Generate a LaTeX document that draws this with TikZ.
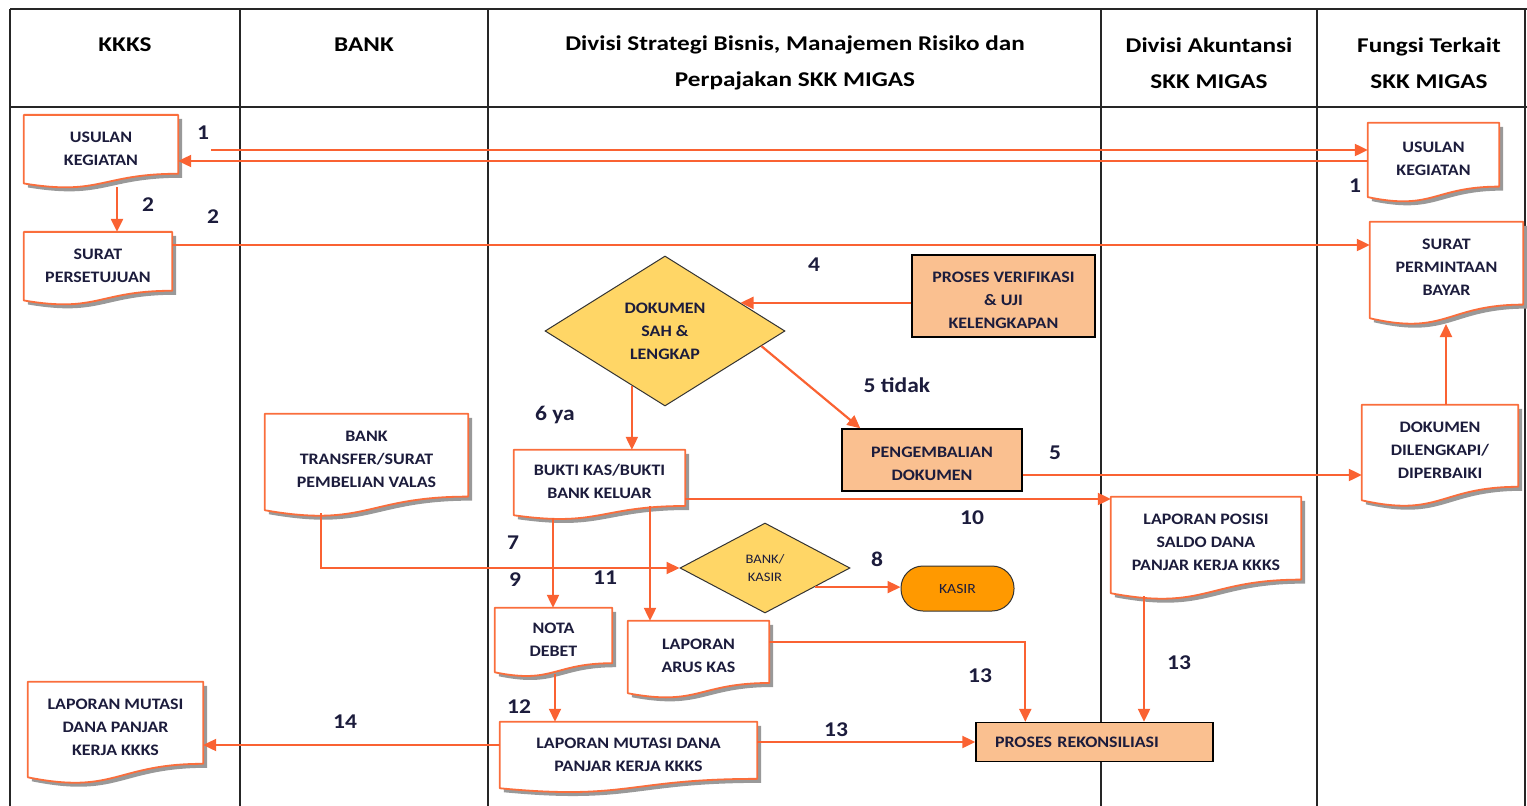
\documentclass[tikz,border=0pt]{standalone}
\usepackage{fontspec}
\setmainfont[FakeStretch=1.12]{Carlito}
\newfontfamily\headfont[FakeStretch=1.2]{Carlito}
\usetikzlibrary{shapes.geometric,arrows.meta,calc}
\pgfdeclarelayer{lanes}
\pgfdeclarelayer{bg}
\pgfsetlayers{lanes,bg,main}

\definecolor{lineor}{RGB}{250,98,50}
\definecolor{docor}{RGB}{250,110,60}
\definecolor{procfill}{RGB}{250,192,144}
\definecolor{decfill}{RGB}{255,214,102}
\definecolor{termfill}{RGB}{255,153,0}
\definecolor{ink}{RGB}{28,28,60}

% strut that sets the first text line a little lower in its box
\newcommand\lowr{\rule{0pt}{19pt}}

\tikzset{
  doc/.style={inner sep=0pt, text=ink, align=center,
    font=\fontsize{16}{23}\selectfont\bfseries},
  proc/.style={draw=black, line width=1.4pt, fill=procfill, inner sep=0pt,
    text=ink, align=center, font=\fontsize{16}{23}\selectfont\bfseries},
  dec/.style={diamond, shape aspect=1.6, draw=black!80, line width=1pt,
    fill=decfill, inner sep=0pt, text=ink, align=center,
    font=\fontsize{16}{23}\selectfont\bfseries},
  term/.style={rectangle, rounded corners=22pt, draw=black!80, line width=1pt,
    fill=termfill, inner sep=0pt, text=ink, font=\fontsize{14}{16}\selectfont},
  head/.style={inner sep=0pt, align=center, text=black,
    font=\headfont\fontsize{21}{36}\selectfont\bfseries},
  lbl/.style={inner sep=0pt, text=ink, font=\fontsize{21}{24}\selectfont\bfseries},
  arr/.style={draw=lineor, line width=2.2pt,
    -{Triangle[length=13pt,width=12pt]}},
  lane/.style={draw=black!85, line width=1.5pt}
}

% document symbol: flat top, wavy bottom, grey drop shadow
\newcommand\docshape[1]{%
  \begin{pgfonlayer}{bg}
    \path[fill=black!40, transform canvas={shift={(4pt,-4pt)}}]
      (#1.north west) -- (#1.north east) -- (#1.south east)
      .. controls (#1.south) and ($(#1.south)!-0.38!(#1.north)$) ..
      ($(#1.south west)!-0.1646!(#1.north west)$) -- cycle;
    \path[fill=white, draw=docor, line width=1.8pt, line join=round]
      (#1.north west) -- (#1.north east) -- (#1.south east)
      .. controls (#1.south) and ($(#1.south)!-0.38!(#1.north)$) ..
      ($(#1.south west)!-0.1646!(#1.north west)$) -- cycle;
  \end{pgfonlayer}}

\begin{document}
\begin{tikzpicture}[x=1pt,y=-1pt]
\useasboundingbox (0,0) rectangle (1527,806);

% swimlane table
\begin{pgfonlayer}{lanes}
  \path[lane] (10,9) -- (1527,9);
  \path[lane, line width=2.6pt] (10,107) -- (1527,107);
  \foreach \lx in {10,240,488,1101,1317,1525}
    \path[lane] (\lx,9) -- (\lx,806);
\end{pgfonlayer}

% lane headings
\node[head] (hKKKS) at (125,45) {KKKS};
\node[head] (hBank) at (364,45) {BANK};
\node[head] (hDiv)  at (795,63) {Divisi Strategi Bisnis, Manajemen Risiko dan\\Perpajakan SKK MIGAS};
\node[head] (hAkun) at (1209,63) {Divisi Akuntansi\\SKK MIGAS};
\node[head] (hFung) at (1429,63) {Fungsi Terkait\\SKK MIGAS};

% documents
\node[doc, minimum width=154pt, minimum height=58.5pt] (usulanL) at (101,144.3) {\lowr USULAN\\KEGIATAN};
\node[doc, minimum width=148pt, minimum height=58.5pt] (suratP) at (98,261.3) {\lowr SURAT\\PERSETUJUAN};
\node[doc, minimum width=131pt, minimum height=63.4pt] (usulanR) at (1433.5,154.7) {\lowr USULAN\\KEGIATAN};
\node[doc, minimum width=153pt, minimum height=82.4pt] (suratPB) at (1446.5,263.2) {\lowr SURAT\\PERMINTAAN\\BAYAR};
\node[doc, minimum width=156pt, minimum height=81.6pt] (dokLengkap) at (1440,445.8) {\lowr DOKUMEN\\DILENGKAPI/\\DIPERBAIKI};
\node[doc, minimum width=190pt, minimum height=82.4pt] (lapPosisi) at (1206,538.2) {\lowr LAPORAN POSISI\\SALDO DANA\\PANJAR KERJA KKKS};
\node[doc, minimum width=203pt, minimum height=82.4pt] (bankTr) at (366.5,455.2) {\lowr BANK\\TRANSFER/SURAT\\PEMBELIAN VALAS};
\node[doc, minimum width=171pt, minimum height=55.8pt] (bukti) at (599.5,477.9) {\lowr BUKTI KAS/BUKTI\\BANK KELUAR};
\node[doc, minimum width=117pt, minimum height=55pt] (nota) at (553.5,635.5) {\lowr NOTA\\DEBET};
\node[doc, minimum width=141pt, minimum height=61.8pt] (arus) at (698.5,651.9) {\lowr LAPORAN\\ARUS KAS};
\node[doc, minimum width=257pt, minimum height=56.7pt] (mutasiC) at (628.5,750.3) {\lowr LAPORAN MUTASI DANA\\PANJAR KERJA KKKS};
\node[doc, minimum width=175pt, minimum height=81.6pt] (mutasiL) at (115.5,722.8) {\lowr LAPORAN MUTASI\\DANA PANJAR\\KERJA KKKS};
\foreach \d in {usulanL,suratP,usulanR,suratPB,dokLengkap,lapPosisi,bankTr,bukti,nota,arus,mutasiC,mutasiL}
  \docshape{\d};

% processes
\node[proc, minimum width=183pt, minimum height=82pt] (verif) at (1003.5,296) {\lowr PROSES VERIFIKASI\\\& UJI\\KELENGKAPAN};
\node[proc, minimum width=180pt, minimum height=62pt] (pengemb) at (932,460) {\lowr PENGEMBALIAN\\DOKUMEN};
\node[proc, minimum width=237pt, minimum height=39pt, text width=199pt, align=left] (rekon) at (1094.5,742) {PROSES REKONSILIASI};

% decisions and terminal
\node[dec, minimum width=240pt, minimum height=150pt] (dokSah) at (665,331) {DOKUMEN\\SAH \&\\LENGKAP};
\node[dec, minimum width=170pt, minimum height=90pt, font=\fontsize{13}{18}\selectfont] (bankKasir) at (765,568) {BANK/\\KASIR};
\node[term, minimum width=113pt, minimum height=45pt] (kasir) at (957.5,588.5) {KASIR};

% step numbers
\node[lbl] (n1a) at (203,133) {1};
\node[lbl] (n1b) at (1355,186) {1};
\node[lbl] (n2a) at (148,205) {2};
\node[lbl] (n2b) at (213,217) {2};
\node[lbl] (n4) at (814,265) {4};
\node[lbl] (n5t) at (897,385) {5 tidak};
\node[lbl] (n6) at (555,415) {6 ya};
\node[lbl] (n5) at (1055,453) {5};
\node[lbl] (n10) at (972,518) {10};
\node[lbl] (n7) at (513,543) {7};
\node[lbl] (n8) at (877,559) {8};
\node[lbl] (n9) at (515,580) {9};
\node[lbl] (n11) at (605,578) {11};
\node[lbl] (n13a) at (980,676) {13};
\node[lbl] (n13b) at (1179,663) {13};
\node[lbl] (n12) at (519,707) {12};
\node[lbl] (n14) at (345,722) {14};
\node[lbl] (n13c) at (836,730) {13};

% connector end points on the wavy document edges
\coordinate (s1) at (211,150);
\coordinate (usulanLout) at (117,187);
\coordinate (bankTrOut) at (321,513);
\coordinate (buktiOutA) at (553,518);
\coordinate (buktiOutB) at (650,506);
\coordinate (notaOut) at (555,674);
\coordinate (posisiOut) at (1144,596);
\coordinate (plbIn) at (1446,324);
\coordinate (sahIn) at ($(dokSah.north)!0.627!(dokSah.east)$);
\coordinate (sahOutR) at ($(dokSah.east)!0.2!(dokSah.south)$);
\coordinate (sahOutD) at ($(dokSah.south)!0.275!(dokSah.west)$);
\coordinate (bkOut) at ($(bankKasir.east)!0.42!(bankKasir.south)$);

% connectors
\draw[arr] (s1) -- (usulanR.west |- s1);
\draw[arr] (usulanR.west |- 0,161) -- (usulanL.east |- 0,161);
\draw[arr] (usulanLout) -- (usulanLout |- suratP.north);
\draw[arr] (suratP.east |- 0,245) -- (suratPB.west |- 0,245);
\draw[arr] (dokLengkap.north -| plbIn) -- (plbIn);
\draw[arr] (verif.west |- sahIn) -- (sahIn);
\draw[arr] (sahOutR) -- ($(pengemb.north west)+(19,0)$);
\draw[arr] (sahOutD) -- (sahOutD |- bukti.north);
\draw[arr] ($(pengemb.east)+(0,15)$) -- (dokLengkap.west |- 0,475);
\draw[arr] (bukti.east |- 0,499) -- (lapPosisi.west |- 0,499);
\draw[arr] (bankTrOut) |- (bankKasir.west);
\draw[arr] (buktiOutA) -- (buktiOutA |- nota.north);
\draw[arr] (buktiOutB) -- (buktiOutB |- arus.north);
\draw[arr] (bkOut) -- (kasir.west |- bkOut);
\draw[arr] (notaOut) -- (notaOut |- mutasiC.north);
\draw[arr] (arus.east |- 0,642) -| ($(rekon.north west)+(50,0)$);
\draw[arr] (posisiOut) -- (posisiOut |- rekon.north);
\draw[arr] (mutasiC.east |- rekon.west) -- (rekon.west);
\draw[arr] (mutasiC.west |- 0,745) -- (mutasiL.east |- 0,745);

\end{tikzpicture}
\end{document}
